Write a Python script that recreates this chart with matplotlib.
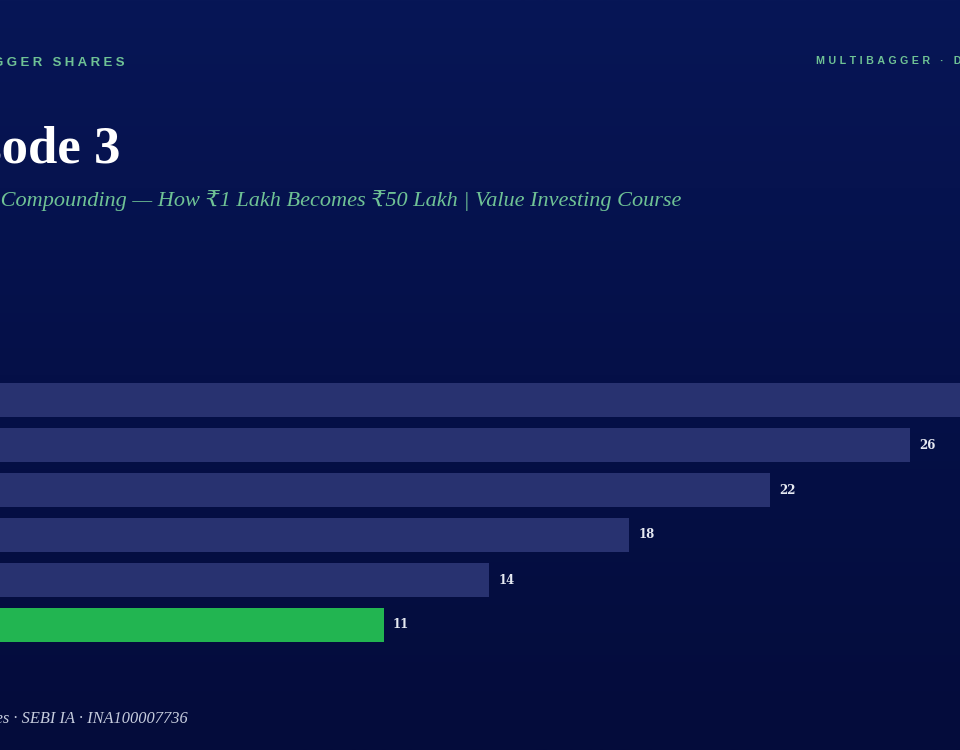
"""Episode 3 slide: horizontal bars on a navy gradient, cropped at both edges."""

import matplotlib

matplotlib.use("Agg")
import matplotlib.pyplot as plt
import numpy as np
from matplotlib.colors import LinearSegmentedColormap

values = [30, 26, 22, 18, 14, 11]
bar_colors = ["#283270", "#283270", "#283270", "#283270", "#283270", "#22B551"]

kicker = "MULTIBAGGER SHARES"
tag = "MULTIBAGGER · D"
title = "Episode 3"
subtitle = "Power of Compounding — How ₹1 Lakh Becomes ₹50 Lakh | Value Investing Course"
footer = "Multibagger Shares · SEBI IA · INA100007736"

SERIF = ["Liberation Serif", "DejaVu Serif", "DejaVu Sans"]
SANS = ["Liberation Sans", "DejaVu Sans"]
GREEN_TEXT = "#6FC295"
W, H = 960, 750


def spaced(text, n):
    """No letter-spacing in matplotlib, so pad with hair spaces."""
    return ("\u200a" * n).join(text)


def px(fig, x, y, s, **kw):
    """Text placed by pixel position, measured from the top left."""
    fig.text(x / W, 1 - y / H, s, **kw)


fig = plt.figure(figsize=(W / 100, H / 100), dpi=100)

# background gradient
bg = fig.add_axes([0, 0, 1, 1], zorder=0)
cmap = LinearSegmentedColormap.from_list("navy", ["#071656", "#051048", "#040C3B"])
bg.imshow(np.linspace(0, 1, 256).reshape(-1, 1), cmap=cmap, aspect="auto")
bg.axis("off")

# bars: about 35.07 px per unit, rows 45 px apart, first row centred on y=400
ax = fig.add_axes([0, 0, 1, 1], zorder=1)
ax.patch.set_alpha(0)
rows = np.arange(len(values))
bars = ax.barh(rows, values, height=34 / 45, color=bar_colors)
labels = ax.bar_label(bars, padding=6.5, fontsize=8.5, fontweight="bold",
                      color="#E6E9F2", family=["DejaVu Serif"])
ax.set_xlim(1.8 / 35.07, (W + 1.8) / 35.07)
ax.set_ylim((H - 400) / 45, -400 / 45)
ax.axis("off")

px(fig, 124, 66, spaced(kicker, 3), ha="right", fontsize=9.5, fontweight="bold",
   color=GREEN_TEXT, family=SANS)
px(fig, 816, 64, spaced(tag, 4), ha="left", fontsize=7.7, fontweight="bold",
   color=GREEN_TEXT, family=SANS)
px(fig, 120, 163, title, ha="right", fontsize=38, fontweight="bold",
   color="white", family=SERIF)
px(fig, 682, 206, subtitle, ha="right", fontsize=16, style="italic",
   color=GREEN_TEXT, family=SERIF)
px(fig, 188, 723, footer, ha="right", fontsize=11.8, style="italic",
   color="#C6CCDD", family=SERIF)

fig.savefig("out.png", dpi=100)
